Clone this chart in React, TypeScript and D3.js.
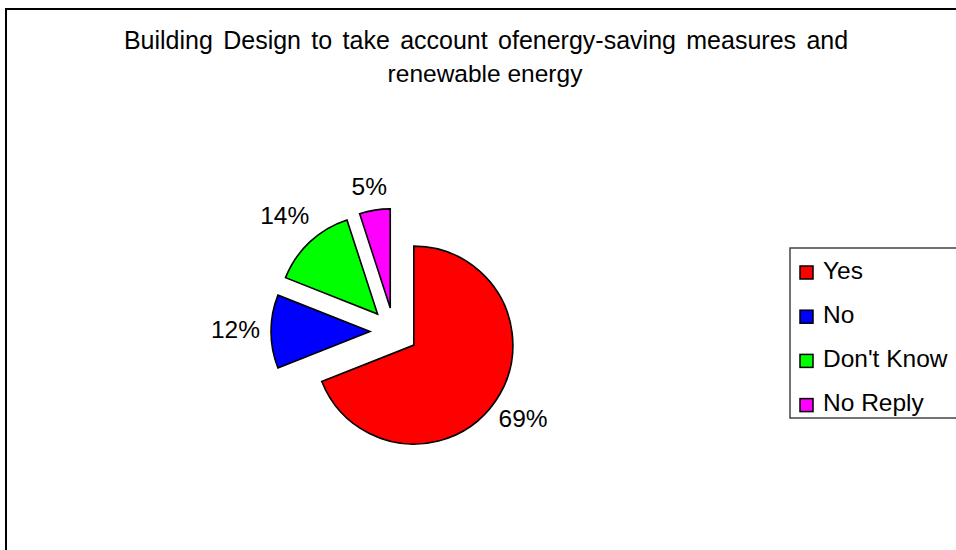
import React from "react";
import * as d3 from "d3";

const TITLE_LINES = ["Building Design to take account ofenergy-saving measures and", "renewable energy"];
const categories = ["Yes", "No", "Don't Know", "No Reply"];
const values = [69, 12, 14, 5];
const colors = ["#FF0000", "#0000FF", "#00FF00", "#FF00FF"];

const W = 956;
const H = 550;
const FONT = "'Liberation Sans', Arial, Helvetica, sans-serif";
const FS = 24.5;

export default function App() {
  const cx = 394;
  const cy = 331.6;
  const r = 99;
  const explode = 24;
  const gap = 9;

  const pie = d3.pie<number>().sort(null).startAngle(0).endAngle(2 * Math.PI).value((d) => d);
  const arcs = pie(values);
  const arc = d3.arc<d3.PieArcDatum<number>>().innerRadius(0).outerRadius(r);
  const total = d3.sum(values);

  const charW = (s: string) => (s.length === 2 ? 0.556 + 0.889 : 0.556 * 2 + 0.889);

  return (
    <svg width={W} height={H} style={{ position: "absolute", left: 0, top: 0, background: "#fff" }}>
      <rect x={0} y={0} width={W} height={H} fill="#fff" />
      <rect x={6} y={9} width={1100} height={700} fill="none" stroke="#000" strokeWidth={2} />
      <g fontFamily={FONT} fill="#000" textAnchor="middle">
        <text x={486} y={48.5} fontSize={25} wordSpacing={3.4}>{TITLE_LINES[0]}</text>
        <text x={485} y={82} fontSize={FS}>{TITLE_LINES[1]}</text>
      </g>
      <g>
        {arcs.map((a, i) => {
          const mid = (a.startAngle + a.endAngle) / 2;
          const ux = Math.sin(mid);
          const uy = -Math.cos(mid);
          const ox = cx + explode * ux;
          const oy = cy + explode * uy;
          const label = `${Math.round((values[i] / total) * 100)}%`;
          const w = charW(label) * FS;
          const h = 22;
          const half = (Math.abs(ux) * w) / 2 + (Math.abs(uy) * h) / 2;
          const d = r + gap + half;
          const lx = ox + d * ux;
          const ly = oy + d * uy;
          return (
            <g key={categories[i]}>
              <path
                d={arc(a) || ""}
                transform={`translate(${ox},${oy})`}
                fill={colors[i]}
                stroke="#000"
                strokeWidth={1.6}
                strokeLinejoin="miter"
              />
              <text x={lx - 2} y={ly - 2} dy="0.36em" textAnchor="middle" fontFamily={FONT} fontSize={FS} fill="#000">
                {label}
              </text>
            </g>
          );
        })}
      </g>
      <g>
        <rect x={790} y={248} width={300} height={170} fill="#fff" stroke="#444" strokeWidth={1.5} />
        {categories.map((c, i) => {
          const yc = 272.5 + i * 44.2;
          return (
            <g key={c}>
              <rect x={800} y={yc - 6.5} width={13} height={13} fill={colors[i]} stroke="#000" strokeWidth={1.5} />
              <text x={823} y={yc + 6} fontFamily={FONT} fontSize={FS} fill="#000">
                {c}
              </text>
            </g>
          );
        })}
      </g>
    </svg>
  );
}
